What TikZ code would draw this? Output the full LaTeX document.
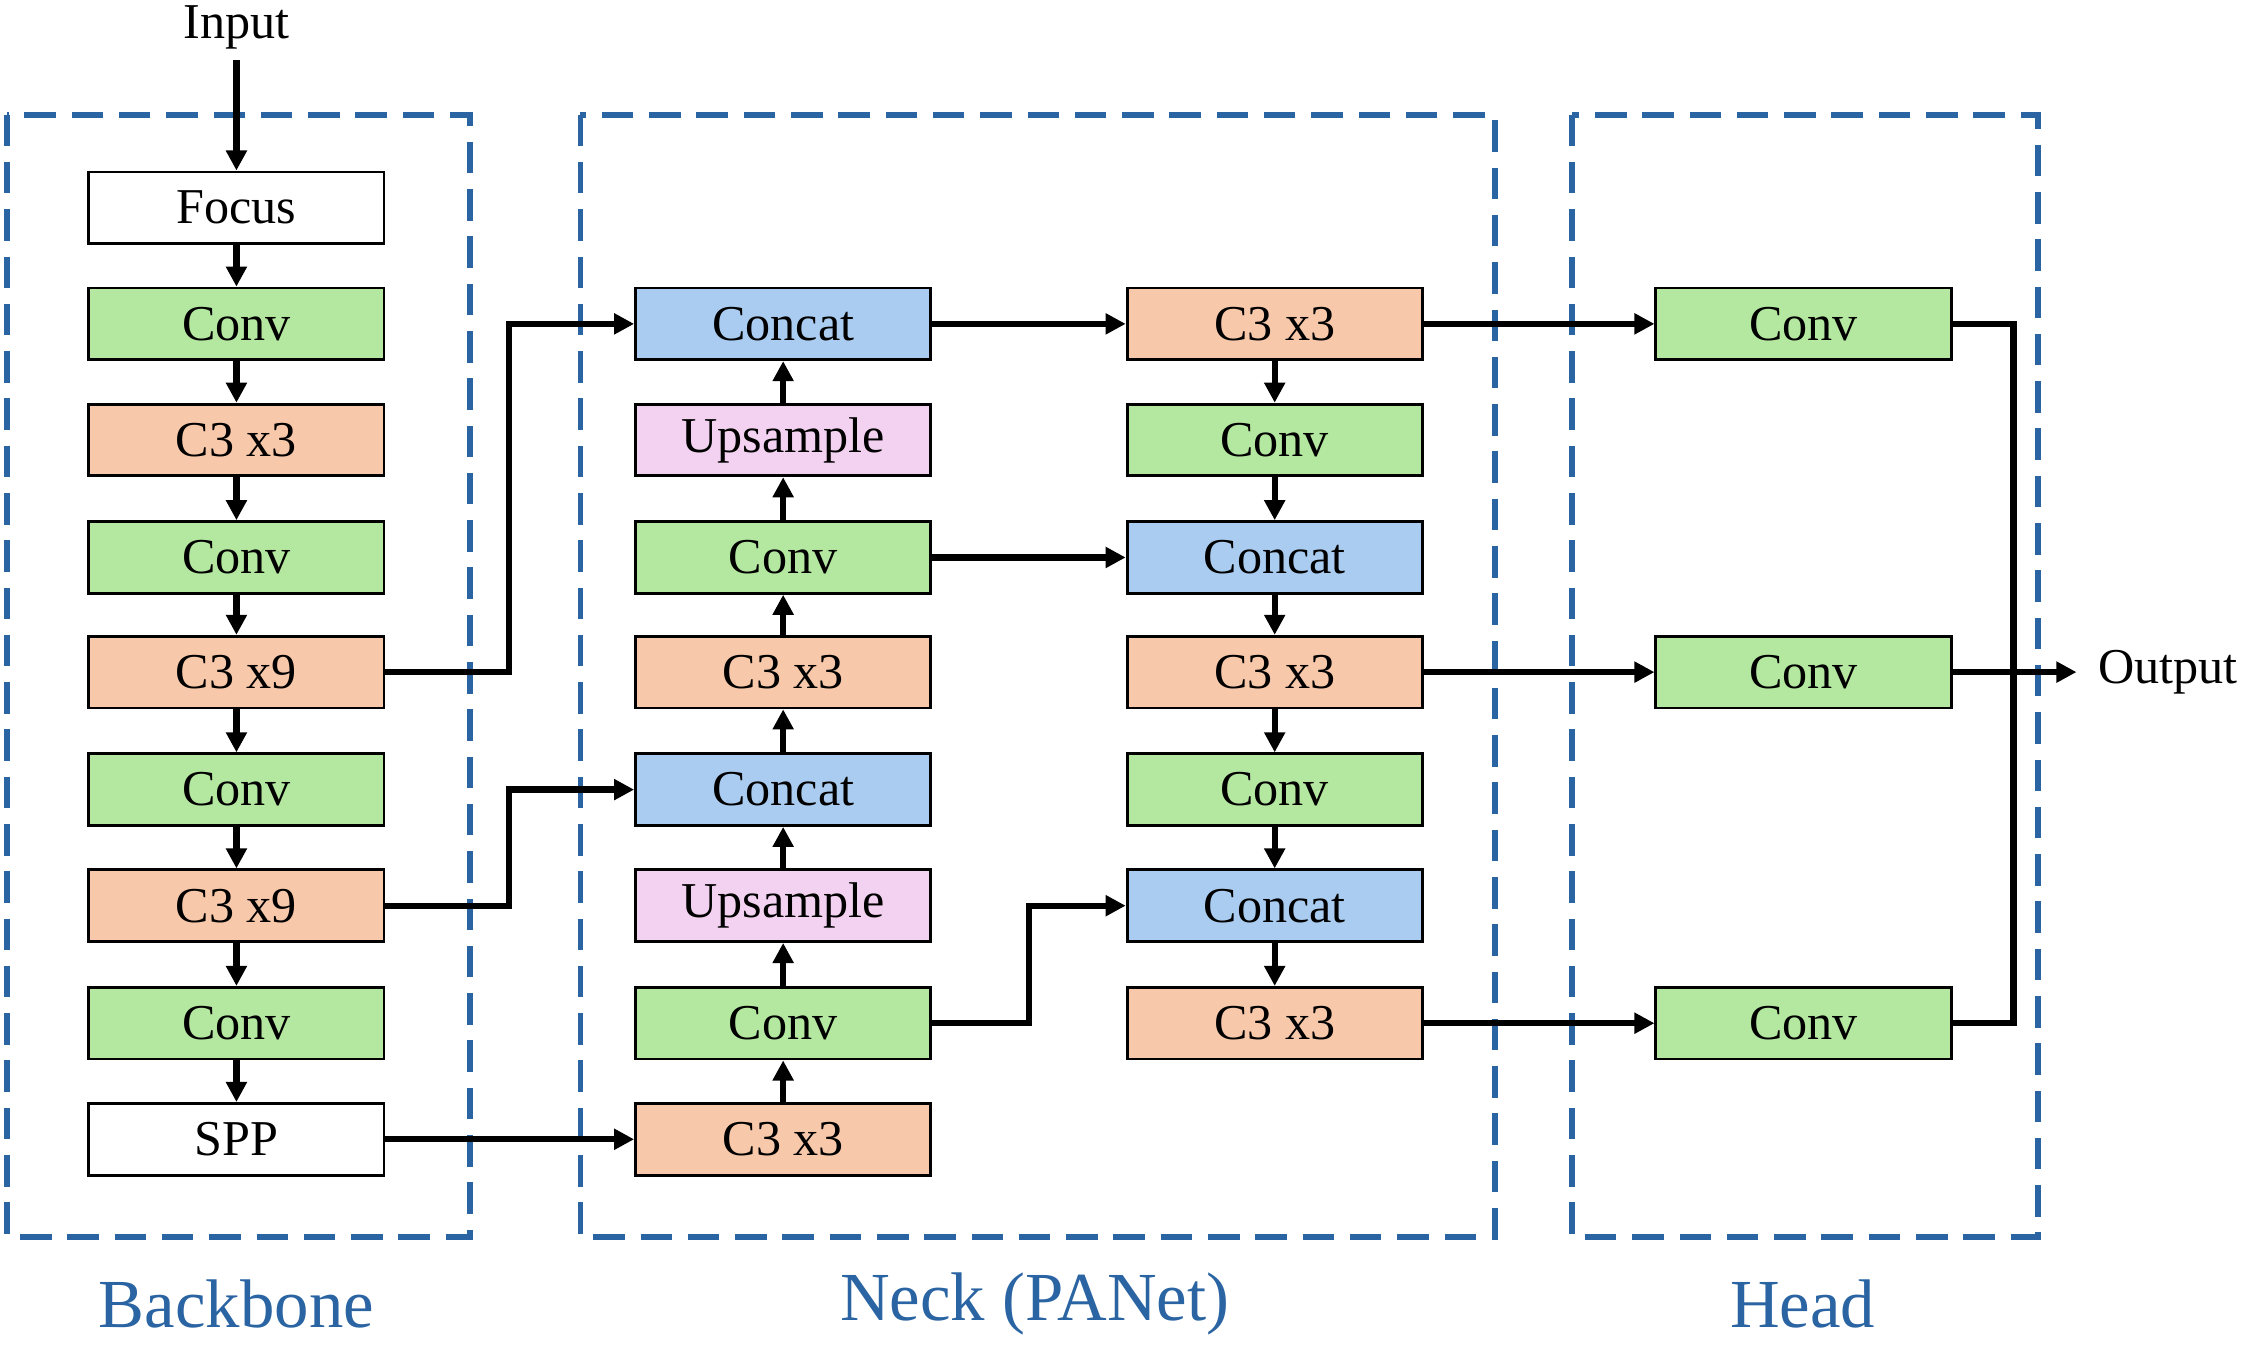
\documentclass[tikz,border=0pt]{standalone}
\usepackage{fontspec}
\setmainfont{Liberation Serif}
\usetikzlibrary{arrows.meta}
\definecolor{cg}{HTML}{B4E8A0}
\definecolor{co}{HTML}{F8C8AA}
\definecolor{cb}{HTML}{AACCF0}
\definecolor{cp}{HTML}{F2D2F0}
\definecolor{dbl}{HTML}{2A64A2}
\begin{document}
\begin{tikzpicture}[x=0.5pt,y=-0.5pt,
 blk/.style={draw=black,line width=1pt,minimum width=103pt,minimum height=25pt,inner sep=0pt,font=\fontsize{17.5}{19}\selectfont},
 g/.style={blk,fill=cg}, o/.style={blk,fill=co}, b/.style={blk,fill=cb}, p/.style={blk,fill=cp}, w/.style={blk,fill=white},
 ar/.style={line width=2.2pt,-{Triangle[length=7pt,width=7pt]}},
 ln/.style={line width=2.2pt},
 grp/.style={draw=dbl,line width=2pt,dash pattern=on 11pt off 5.5pt},
 lab/.style={text=dbl,font=\fontsize{24}{26}\selectfont}]
\useasboundingbox (0,0) rectangle (1568,938);
\draw[grp] (5,80) rectangle (328,863);
\draw[grp] (405,80) rectangle (1043,863);
\draw[grp] (1097,80) rectangle (1422,863);
\node[lab] (lb) at (165,910) {Backbone};
\node[lab] (ln) at (722,910) {Neck (PANet)};
\node[lab] (lh) at (1258,910) {Head};
% backbone
\node[w] (f) at (165,145) {Focus};
\node[g] (b1) at (165,226) {Conv};
\node[o] (b2) at (165,307) {C3 x3};
\node[g] (b3) at (165,389) {Conv};
\node[o] (b4) at (165,469) {C3 x9};
\node[g] (b5) at (165,551) {Conv};
\node[o] (b6) at (165,632) {C3 x9};
\node[g] (b7) at (165,714) {Conv};
\node[w] (spp) at (165,795) {SPP};
\node[font=\fontsize{17.5}{19}\selectfont,inner sep=1pt] (in) at (165,19) {Input};
\coordinate (ins) at (165,42);
\draw[ar] (ins) -- (f);
\draw[ar] (f)--(b1); \draw[ar] (b1)--(b2); \draw[ar] (b2)--(b3); \draw[ar] (b3)--(b4);
\draw[ar] (b4)--(b5); \draw[ar] (b5)--(b6); \draw[ar] (b6)--(b7); \draw[ar] (b7)--(spp);
% neck col1
\node[b] (n1) at (546.5,226) {Concat};
\node[p] (n2) at (546.5,307) {Upsample};
\node[g] (n3) at (546.5,389) {Conv};
\node[o] (n4) at (546.5,469) {C3 x3};
\node[b] (n5) at (546.5,551) {Concat};
\node[p] (n6) at (546.5,632) {Upsample};
\node[g] (n7) at (546.5,714) {Conv};
\node[o] (n8) at (546.5,795) {C3 x3};
\draw[ar] (n8)--(n7); \draw[ar] (n7)--(n6); \draw[ar] (n6)--(n5); \draw[ar] (n5)--(n4);
\draw[ar] (n4)--(n3); \draw[ar] (n3)--(n2); \draw[ar] (n2)--(n1);
% neck col2
\node[o] (m1) at (889.5,226) {C3 x3};
\node[g] (m2) at (889.5,307) {Conv};
\node[b] (m3) at (889.5,389) {Concat};
\node[o] (m4) at (889.5,469) {C3 x3};
\node[g] (m5) at (889.5,551) {Conv};
\node[b] (m6) at (889.5,632) {Concat};
\node[o] (m7) at (889.5,714) {C3 x3};
\draw[ar] (m1)--(m2); \draw[ar] (m2)--(m3); \draw[ar] (m3)--(m4); \draw[ar] (m4)--(m5);
\draw[ar] (m5)--(m6); \draw[ar] (m6)--(m7);
% head
\node[g] (h1) at (1258.5,226) {Conv};
\node[g] (h2) at (1258.5,469) {Conv};
\node[g] (h3) at (1258.5,714) {Conv};
\node[font=\fontsize{17.5}{19}\selectfont,anchor=west,inner sep=1pt] (out) at (1462,469) {Output};
% connections
\draw[ar] (b4.east) -- (355,469) -- (355,226) -- (n1.west);
\draw[ar] (b6.east) -- (355,632) -- (355,551) -- (n5.west);
\draw[ar] (spp) -- (n8);
\draw[ar] (n1) -- (m1);
\draw[ar] (n3) -- (m3);
\draw[ar] (n7.east) -- (718,714) -- (718,632) -- (m6.west);
\draw[ar] (m1) -- (h1);
\draw[ar] (m4) -- (h2);
\draw[ar] (m7) -- (h3);
\draw[ln] (h1.east) -- (1405,226) -- (1405,714) -- (h3.east);
\draw[ar] (h2.east) -- (1449,469);
\end{tikzpicture}
\end{document}
